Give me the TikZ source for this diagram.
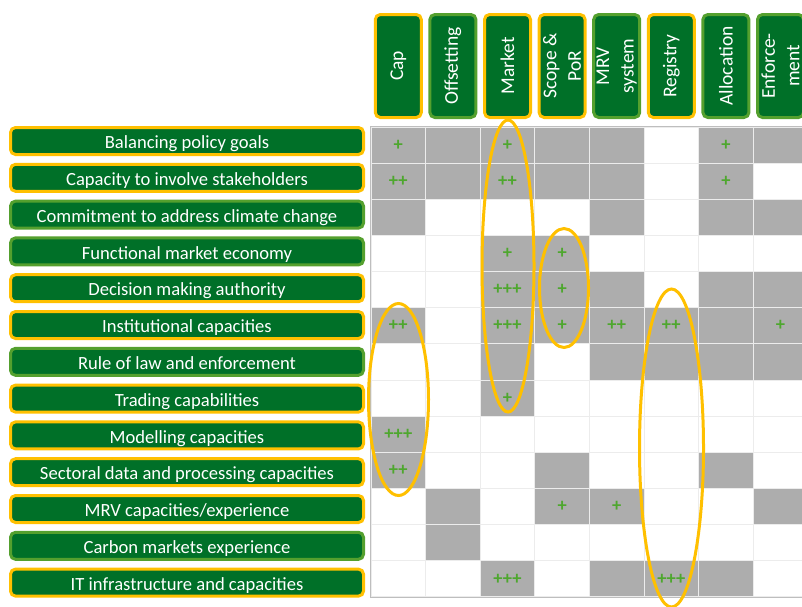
\documentclass[tikz,border=0pt]{standalone}
\usepackage{fontspec}
\setmainfont{Carlito}

\definecolor{boxgreen}{RGB}{0,112,40}
\definecolor{ringgreen}{RGB}{84,160,46}
\definecolor{ringyellow}{RGB}{255,192,0}
\definecolor{plusgreen}{RGB}{78,167,46}
\definecolor{gridline}{RGB}{236,236,236}
\definecolor{gridframe}{RGB}{190,190,190}
\colorlet{cell0}{white}
\definecolor{cell1}{RGB}{173,173,173}

\tikzset{
  greenbox/.style={rectangle, rounded corners=5pt, fill=boxgreen, text=white,
    line width=3pt, inner sep=0pt},
  crit/.style={greenbox, minimum width=353pt, minimum height=27pt,
    text height=16pt, text depth=0.5pt, font=\fontsize{18.6}{20}\selectfont},
  elem/.style={greenbox, rotate=90, minimum width=103pt, minimum height=46pt,
    align=center, font=\fontsize{19.5}{24.5}\selectfont},
  yel/.style={draw=ringyellow},
  grn/.style={draw=ringgreen},
  cell/.style={rectangle, draw=gridline, line width=1pt, minimum width=54.6pt,
    minimum height=36.15pt, inner sep=0pt},
  plus/.style={text=plusgreen, inner sep=0pt, font=\fontsize{18.5}{18}\bfseries\selectfont},
  ring/.style={draw=ringyellow, line width=3pt},
}

\begin{document}
\begin{tikzpicture}[x=1pt,y=-1pt]
  \useasboundingbox (0,0) rectangle (802,606);

  %% grid of cells, 1 = grey
  \foreach \pat [count=\r] in {{1,1,1,1,1,0,1,1},{1,1,1,1,1,0,1,0},{1,0,0,0,1,0,1,1},
      {0,0,1,1,0,0,0,0},{0,0,1,1,1,0,1,1},{1,0,1,1,1,1,1,1},{0,0,1,0,1,1,1,1},
      {0,0,1,0,0,0,0,0},{1,0,0,0,0,0,0,0},{1,0,0,1,0,0,1,0},{0,1,0,1,1,0,0,1},
      {0,1,0,0,0,0,0,0},{0,0,1,0,1,1,1,0}}
    \foreach \g [count=\c] in \pat
      \node[cell, fill=cell\g] (c-\r-\c) at ({398.3+(\c-1)*54.6},{145.1+(\r-1)*36.15}) {};
  \draw[gridframe, line width=1pt] (c-1-8.north east) -- (c-1-1.north west)
    -- (c-13-1.south west) -- (c-13-8.south east);

  %% criteria
  \foreach \txt/\rc [count=\r] in {Balancing policy goals/yel,
      Capacity to involve stakeholders/yel, Commitment to address climate change/grn,
      Functional market economy/grn, Decision making authority/yel,
      Institutional capacities/yel, Rule of law and enforcement/grn,
      Trading capabilities/yel, Modelling capacities/yel,
      Sectoral data and processing capacities/yel, {MRV capacities/experience}/yel,
      Carbon markets experience/grn, IT infrastructure and capacities/yel}
    \node[crit,\rc] (crit\r) at (187,{141+(\r-1)*36.8}) {\txt};

  %% design elements
  \foreach \txt/\rc [count=\c] in {Cap/yel, Offsetting/grn, Market/yel,
      {Scope \&\\PoR}/yel, {MRV\\system}/grn, Registry/yel, Allocation/grn,
      {Enforce-\\ment}/grn}
    \node[elem,\rc] (elem\c) at ({398.3+(\c-1)*54.6},66) {\txt};

  %% highlighted links
  \draw[ring] (508,266) ellipse [x radius=26pt, y radius=146pt];
  \draw[ring] (564,288) ellipse [x radius=24.5pt, y radius=59.5pt];
  \draw[ring] (398.5,399.5) ellipse [x radius=30pt, y radius=96pt];
  \draw[ring] (671.5,448) ellipse [x radius=32pt, y radius=159pt];

  %% ratings
  \foreach \r/\c/\m in {1/1/+, 1/3/+, 1/7/+, 2/1/++, 2/3/++, 2/7/+, 4/3/+, 4/4/+,
      5/3/+++, 5/4/+, 6/1/++, 6/3/+++, 6/4/+, 6/5/++, 6/6/++, 6/8/+, 8/3/+,
      9/1/+++, 10/1/++, 11/4/+, 11/5/+, 13/3/+++, 13/6/+++}
    \node[plus] (plus-\r-\c) at (c-\r-\c) {\m};

\end{tikzpicture}
\end{document}
